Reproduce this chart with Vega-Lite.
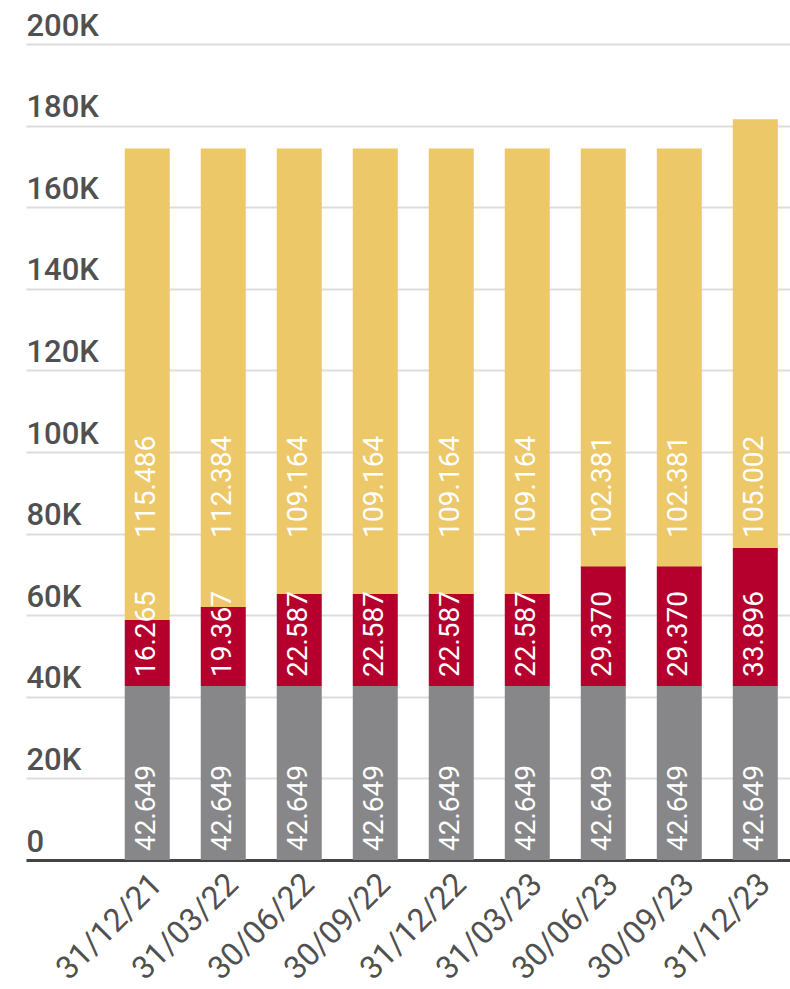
{
  "$schema": "https://vega.github.io/schema/vega-lite/v6.json",
  "width": 764,
  "height": 816,
  "autosize": "none",
  "padding": {"left": 26, "top": 44, "right": 0, "bottom": 129},
  "config": {"view": {"stroke": null}, "font": "Roboto"},
  "data": {
    "values": [
      {"date": "31/12/21", "serie": "1", "value": 42649},
      {"date": "31/12/21", "serie": "2", "value": 16265},
      {"date": "31/12/21", "serie": "3", "value": 115486},
      {"date": "31/03/22", "serie": "1", "value": 42649},
      {"date": "31/03/22", "serie": "2", "value": 19367},
      {"date": "31/03/22", "serie": "3", "value": 112384},
      {"date": "30/06/22", "serie": "1", "value": 42649},
      {"date": "30/06/22", "serie": "2", "value": 22587},
      {"date": "30/06/22", "serie": "3", "value": 109164},
      {"date": "30/09/22", "serie": "1", "value": 42649},
      {"date": "30/09/22", "serie": "2", "value": 22587},
      {"date": "30/09/22", "serie": "3", "value": 109164},
      {"date": "31/12/22", "serie": "1", "value": 42649},
      {"date": "31/12/22", "serie": "2", "value": 22587},
      {"date": "31/12/22", "serie": "3", "value": 109164},
      {"date": "31/03/23", "serie": "1", "value": 42649},
      {"date": "31/03/23", "serie": "2", "value": 22587},
      {"date": "31/03/23", "serie": "3", "value": 109164},
      {"date": "30/06/23", "serie": "1", "value": 42649},
      {"date": "30/06/23", "serie": "2", "value": 29370},
      {"date": "30/06/23", "serie": "3", "value": 102381},
      {"date": "30/09/23", "serie": "1", "value": 42649},
      {"date": "30/09/23", "serie": "2", "value": 29370},
      {"date": "30/09/23", "serie": "3", "value": 102381},
      {"date": "31/12/23", "serie": "1", "value": 42649},
      {"date": "31/12/23", "serie": "2", "value": 33896},
      {"date": "31/12/23", "serie": "3", "value": 105002}
    ]
  },
  "transform": [
    {"stack": "value", "groupby": ["date"], "sort": [{"field": "serie", "order": "ascending"}], "as": ["y0", "y1"]},
    {"calculate": "replace(format(datum.value, ','), ',', '.')", "as": "label"}
  ],
  "encoding": {
    "x": {
      "field": "date",
      "type": "nominal",
      "sort": null,
      "scale": {"paddingInner": 0.408, "paddingOuter": 0.73, "align": 0.89},
      "axis": {
        "title": null,
        "labelAngle": -45,
        "labelAlign": "right",
        "labelBaseline": "top",
        "labelFontSize": 32,
        "labelColor": "#505050",
        "labelFontWeight": "normal",
        "labelOffset": -1,
        "ticks": false,
        "tickSize": 0,
        "labelPadding": 8,
        "domainColor": "#444444",
        "domainWidth": 3
      }
    }
  },
  "layer": [
    {
      "mark": {"type": "bar"},
      "encoding": {
        "y": {
          "field": "y0",
          "type": "quantitative",
          "scale": {"domain": [0, 200000]},
          "axis": {
            "title": null,
            "values": [0, 20000, 40000, 60000, 80000, 100000, 120000, 140000, 160000, 180000, 200000],
            "labelExpr": "datum.value == 0 ? '0' : (datum.value / 1000) + 'K'",
            "labelAlign": "left",
            "labelBaseline": "alphabetic",
            "labelPadding": 0,
            "labelOffset": -9,
            "ticks": false,
            "tickSize": 0,
            "domain": false,
            "gridColor": "#dddddd",
            "gridWidth": 2,
            "labelFontSize": 31,
            "labelColor": "#505050",
            "labelFontWeight": 500
          }
        },
        "y2": {"field": "y1"},
        "color": {
          "field": "serie",
          "type": "nominal",
          "scale": {"domain": ["1", "2", "3"], "range": ["#87878a", "#b5002e", "#edc869"]},
          "legend": null
        }
      }
    },
    {
      "transform": [{"filter": "datum.serie != '3'"}],
      "mark": {"type": "text", "angle": 270, "align": "left", "baseline": "middle", "dx": 9, "color": "white", "fontSize": 28},
      "encoding": {
        "y": {"field": "y0", "type": "quantitative"},
        "text": {"field": "label"}
      }
    },
    {
      "transform": [{"filter": "datum.serie == '3'"}],
      "mark": {"type": "text", "angle": 270, "align": "left", "baseline": "middle", "dx": 0, "color": "white", "fontSize": 28},
      "encoding": {
        "y": {"datum": 79000, "type": "quantitative"},
        "text": {"field": "label"}
      }
    }
  ]
}
